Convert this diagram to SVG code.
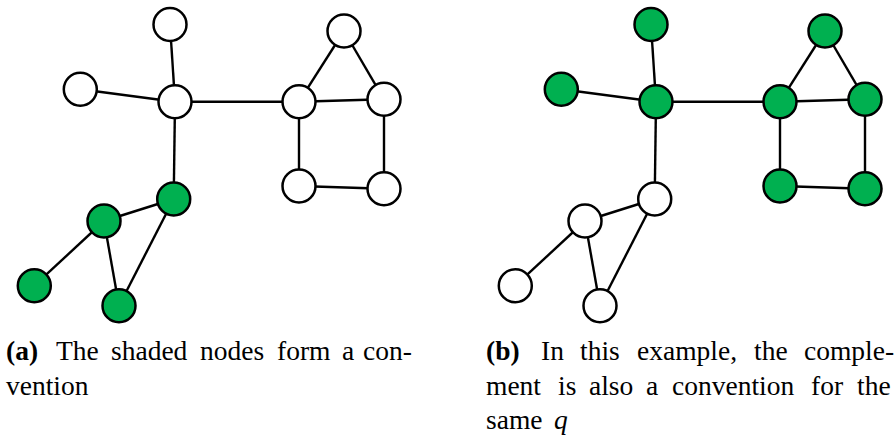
<svg xmlns="http://www.w3.org/2000/svg" width="896" height="436" viewBox="0 0 896 436">
<style>
.e{stroke:#000;stroke-width:2.4;fill:none}
.n{stroke:#000;stroke-width:2.5;fill:#fff}
.g{fill:#00B050}
.cap{font-family:"Liberation Serif","Times New Roman",serif;font-size:27.5px;fill:#000}
.b{font-weight:bold}
.i{font-style:italic}
</style>
<rect width="896" height="436" fill="#fff"/>
<g id="connectors-a">
<line class="e" x1="170" y1="24.5" x2="175" y2="101.7"/>
<line class="e" x1="80.3" y1="89.3" x2="175" y2="101.7"/>
<line class="e" x1="175" y1="101.7" x2="299" y2="101.7"/>
<line class="e" x1="175" y1="101.7" x2="173.7" y2="199"/>
<line class="e" x1="299" y1="101.7" x2="344" y2="31"/>
<line class="e" x1="344" y1="31" x2="384" y2="99.3"/>
<line class="e" x1="299" y1="101.7" x2="384" y2="99.3"/>
<line class="e" x1="299" y1="101.7" x2="299" y2="186"/>
<line class="e" x1="384" y1="99.3" x2="384" y2="188.7"/>
<line class="e" x1="299" y1="186" x2="384" y2="188.7"/>
<line class="e" x1="173.7" y1="199" x2="104" y2="221"/>
<line class="e" x1="104" y1="221" x2="34.3" y2="285.7"/>
<line class="e" x1="104" y1="221" x2="119" y2="305.7"/>
<line class="e" x1="173.7" y1="199" x2="119" y2="305.7"/>
</g>
<g id="connectors-b">
<line class="e" x1="651" y1="24.5" x2="656" y2="101.7"/>
<line class="e" x1="561.3" y1="89.3" x2="656" y2="101.7"/>
<line class="e" x1="656" y1="101.7" x2="780" y2="101.7"/>
<line class="e" x1="656" y1="101.7" x2="654.7" y2="199"/>
<line class="e" x1="780" y1="101.7" x2="825" y2="31"/>
<line class="e" x1="825" y1="31" x2="865" y2="99.3"/>
<line class="e" x1="780" y1="101.7" x2="865" y2="99.3"/>
<line class="e" x1="780" y1="101.7" x2="780" y2="186"/>
<line class="e" x1="865" y1="99.3" x2="865" y2="188.7"/>
<line class="e" x1="780" y1="186" x2="865" y2="188.7"/>
<line class="e" x1="654.7" y1="199" x2="585" y2="221"/>
<line class="e" x1="585" y1="221" x2="515.3" y2="285.7"/>
<line class="e" x1="585" y1="221" x2="600" y2="305.7"/>
<line class="e" x1="654.7" y1="199" x2="600" y2="305.7"/>
</g>
<g id="a-top"><circle class="n" cx="170" cy="24.5" r="16.5"/></g>
<g id="a-left"><circle class="n" cx="80.3" cy="89.3" r="16.5"/></g>
<g id="a-hub"><circle class="n" cx="175" cy="101.7" r="16.5"/></g>
<g id="a-house-lt"><circle class="n" cx="299" cy="101.7" r="16.5"/></g>
<g id="a-roof"><circle class="n" cx="344" cy="31" r="16.5"/></g>
<g id="a-house-rt"><circle class="n" cx="384" cy="99.3" r="16.5"/></g>
<g id="a-house-lb"><circle class="n" cx="299" cy="186" r="16.5"/></g>
<g id="a-house-rb"><circle class="n" cx="384" cy="188.7" r="16.5"/></g>
<g id="a-g1"><circle class="n g" cx="173.7" cy="199" r="16.5"/></g>
<g id="a-g2"><circle class="n g" cx="104" cy="221" r="16.5"/></g>
<g id="a-g3"><circle class="n g" cx="34.3" cy="285.7" r="16.5"/></g>
<g id="a-g4"><circle class="n g" cx="119" cy="305.7" r="16.5"/></g>
<g id="b-top"><circle class="n g" cx="651" cy="24.5" r="16.5"/></g>
<g id="b-left"><circle class="n g" cx="561.3" cy="89.3" r="16.5"/></g>
<g id="b-hub"><circle class="n g" cx="656" cy="101.7" r="16.5"/></g>
<g id="b-house-lt"><circle class="n g" cx="780" cy="101.7" r="16.5"/></g>
<g id="b-roof"><circle class="n g" cx="825" cy="31" r="16.5"/></g>
<g id="b-house-rt"><circle class="n g" cx="865" cy="99.3" r="16.5"/></g>
<g id="b-house-lb"><circle class="n g" cx="780" cy="186" r="16.5"/></g>
<g id="b-house-rb"><circle class="n g" cx="865" cy="188.7" r="16.5"/></g>
<g id="b-w1"><circle class="n" cx="654.7" cy="199" r="16.5"/></g>
<g id="b-w2"><circle class="n" cx="585" cy="221" r="16.5"/></g>
<g id="b-w3"><circle class="n" cx="515.3" cy="285.7" r="16.5"/></g>
<g id="b-w4"><circle class="n" cx="600" cy="305.7" r="16.5"/></g>
<g id="caption-a" class="cap">
<text y="360"><tspan x="6" class="b">(a)</tspan> <tspan x="56">The</tspan> <tspan x="111">shaded</tspan> <tspan x="200">nodes</tspan> <tspan x="277">form</tspan> <tspan x="342">a</tspan> <tspan x="363">con-</tspan></text>
<text x="6" y="395">vention</text>
</g>
<g id="caption-b" class="cap">
<text y="360"><tspan x="486" class="b">(b)</tspan> <tspan x="541">In</tspan> <tspan x="580">this</tspan> <tspan x="637">example,</tspan> <tspan x="754">the</tspan> <tspan x="804">comple-</tspan></text>
<text y="395"><tspan x="486">ment</tspan> <tspan x="558">is</tspan> <tspan x="589">also</tspan> <tspan x="646">a</tspan> <tspan x="672">convention</tspan> <tspan x="811">for</tspan> <tspan x="857">the</tspan></text>
<text y="429"><tspan x="486">same</tspan> <tspan x="554" class="i">q</tspan></text>
</g>
</svg>
